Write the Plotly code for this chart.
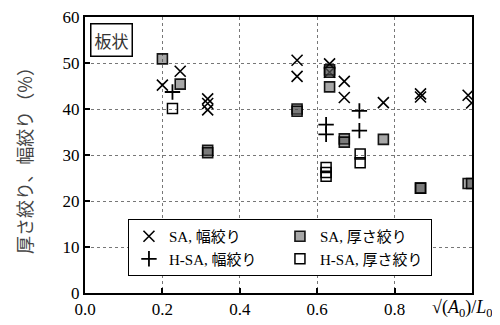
import plotly.graph_objects as go

# SA, 幅絞り
sa_w_x = [0.200, 0.246, 0.317, 0.317, 0.317, 0.548, 0.548, 0.632, 0.632, 0.670, 0.670, 0.771, 0.867, 0.867, 0.990, 0.999]
sa_w_y = [45.2, 48.2, 42.2, 41.2, 39.8, 50.6, 47.1, 49.8, 48.0, 46.0, 42.5, 41.4, 43.3, 42.6, 43.0, 41.3]
# SA, 厚さ絞り
sa_t_x = [0.200, 0.246, 0.317, 0.317, 0.548, 0.548, 0.632, 0.632, 0.632, 0.670, 0.670, 0.771, 0.867, 0.867, 0.990, 0.999]
sa_t_y = [50.9, 45.4, 31.0, 30.5, 40.0, 39.5, 48.5, 48.0, 44.8, 33.5, 32.8, 33.4, 22.8, 22.8, 23.8, 23.8]
# H-SA, 幅絞り
hsa_w_x = [0.226, 0.623, 0.623, 0.709, 0.709]
hsa_w_y = [43.7, 36.6, 34.5, 39.6, 35.3]
# H-SA, 厚さ絞り
hsa_t_x = [0.226, 0.623, 0.623, 0.623, 0.711, 0.711]
hsa_t_y = [40.1, 27.3, 26.2, 25.4, 30.2, 28.3]

x_ticks = [0.0, 0.2, 0.4, 0.6, 0.8]
x_ticklabels = ["0.0", "0.2", "0.4", "0.6", "0.8"]
y_ticks = [0, 10, 20, 30, 40, 50, 60]

serif = "Liberation Serif, Noto Sans CJK JP, serif"

fig = go.Figure()
fig.add_trace(go.Scatter(x=sa_w_x, y=sa_w_y, mode="markers", name="SA, 幅絞り",
                         marker=dict(symbol="x-thin", size=11, line=dict(color="black", width=1.6))))
fig.add_trace(go.Scatter(x=sa_t_x, y=sa_t_y, mode="markers", name="SA, 厚さ絞り",
                         marker=dict(symbol="square", size=10, color="rgba(80,80,80,0.5)",
                                     line=dict(color="rgba(0,0,0,0.9)", width=1.6))))
fig.add_trace(go.Scatter(x=hsa_w_x, y=hsa_w_y, mode="markers", name="H-SA, 幅絞り",
                         marker=dict(symbol="cross-thin", size=11, line=dict(color="black", width=1.8))))
fig.add_trace(go.Scatter(x=hsa_t_x, y=hsa_t_y, mode="markers", name="H-SA, 厚さ絞り",
                         marker=dict(symbol="square-open", size=10, color="black",
                                     line=dict(width=1.5))))

axis_common = dict(showline=True, linecolor="black", linewidth=2, mirror=True,
                   showgrid=True, gridcolor="#777", gridwidth=1, griddash="dot",
                   ticks="inside", ticklen=5, tickcolor="black", tickwidth=2,
                   zeroline=False, automargin=False, ticklabeloverflow="allow",
                   tickfont=dict(family=serif, size=17, color="black"))

fig.update_xaxes(range=[0, 1.0], tickvals=x_ticks, ticktext=x_ticklabels, **axis_common)
fig.update_yaxes(range=[0, 60], tickvals=y_ticks, **axis_common)

fig.add_annotation(x=-0.158, y=0.496, xref="paper", yref="paper", xanchor="center", yanchor="middle",
                   text="厚さ絞り、幅絞り（%）", textangle=-90, showarrow=False,
                   font=dict(family="Noto Sans CJK JP", size=18, color="#444"))
fig.add_annotation(x=1.058, y=-0.055, xref="paper", yref="paper", xanchor="right", yanchor="middle",
                   text="√(<i>A</i><sub>0</sub>)/<i>L</i><sub>0</sub>", showarrow=False,
                   font=dict(family=serif, size=18, color="black"))
fig.add_annotation(x=0.014, y=0.978, xref="paper", yref="paper", xanchor="left", yanchor="top",
                   text="板状", showarrow=False, bordercolor="black", borderwidth=1.5, borderpad=3,
                   bgcolor="white", font=dict(family="Noto Sans CJK JP", size=17, color="#333"))

fig.update_layout(
    width=500, height=325,
    margin=dict(l=77, r=36, t=9, b=40),
    paper_bgcolor="white", plot_bgcolor="white",
    legend=dict(orientation="h", x=0.111, y=0.268, xanchor="left", yanchor="top",
                entrywidth=106, entrywidthmode="pixels", bgcolor="white",
                bordercolor="black", borderwidth=1, itemwidth=30, tracegroupgap=0,
                font=dict(family=serif, size=15, color="black")),
)

fig.write_html("out.html")
